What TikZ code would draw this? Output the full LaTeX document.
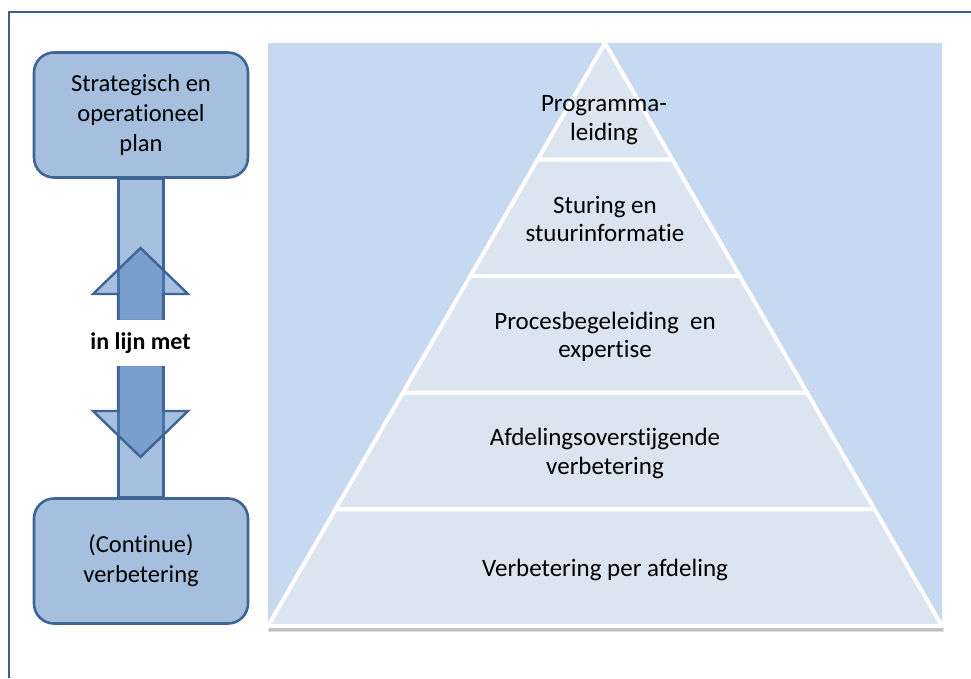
\documentclass[tikz,border=0pt]{standalone}
\usepackage{fontspec}
\setmainfont{Carlito}[Ligatures={NoCommon}]
\usetikzlibrary{backgrounds}
\definecolor{frameblue}{HTML}{3B5E8C}
\definecolor{boxfill}{HTML}{A7BFDE}
\definecolor{boxline}{HTML}{3E6596}
\definecolor{bgblue}{HTML}{C6D9F0}
\definecolor{layerfill}{HTML}{DBE5F1}
\definecolor{arrowblue}{HTML}{4F81BD}
\newcommand\myti{t\kern0pt i}
\begin{document}
\begin{tikzpicture}[x=1pt,y=-1pt,
  box/.style={draw=boxline, line width=2.6pt, fill=boxfill, rounded corners=20pt,
    minimum width=214pt, minimum height=125pt, align=center,
    font=\fontsize{24.5}{30}\selectfont, inner sep=0pt},
  barbox/.style={draw=boxline, line width=2.4pt, fill=boxfill},
  blockarrow/.style={draw=boxline, line width=2.4pt, fill=arrowblue, fill opacity=0.5, draw opacity=1, line join=miter},
  midlabel/.style={fill=white, minimum height=46pt, minimum width=116pt, inner sep=0pt,
    font=\fontsize{24}{28}\selectfont\bfseries},
  layer/.style={fill=layerfill, draw=white, line width=4pt, line join=round},
  ptext/.style={align=center, font=\fontsize{25}{28.5}\selectfont, text=black},
  frameline/.style={draw=frameblue, line width=2.6pt}
]
\useasboundingbox (0,0) rectangle (971,678);
% outer frame
\draw[frameline] (9,678) -- (9,12) -- (971,12);

% left boxes
\node[box] (plan) at (141,115) {Strategisch en\\opera\myti oneel\\plan};
\node[box] (cont) at (141,561) {(Con\myti nue)\\verbetering};
\begin{pgfonlayer}{background}
  \draw[barbox] ([xshift=-22.5pt]plan.south) rectangle ([xshift=22.5pt]cont.north);
\end{pgfonlayer}

% block arrows
\draw[blockarrow] (140.5,248) -- (188,294) -- (163,294) -- (163,321) -- (118,321) -- (118,294) -- (93,294) -- cycle;
\draw[blockarrow] (140.5,457) -- (188,411) -- (163,411) -- (163,365) -- (118,365) -- (118,411) -- (93,411) -- cycle;
\node[midlabel] (lbl) at (140.5,343) {in lijn met};

% pyramid background
\fill[bgblue] (268,43) rectangle (942,626);
% shadow under base
\fill[black, opacity=0.12] (268,627) -- (944,627) -- (944,632) -- (268,632) -- cycle;
\fill[black, opacity=0.15] (269,628) -- (943,628) -- (943,630.5) -- (269,630.5) -- cycle;
% layers
\draw[layer] (605,43) -- (672.4,159.6) -- (537.6,159.6) -- cycle;
\draw[layer] (537.6,159.6) -- (672.4,159.6) -- (739.8,276.2) -- (470.2,276.2) -- cycle;
\draw[layer] (470.2,276.2) -- (739.8,276.2) -- (807.2,392.8) -- (402.8,392.8) -- cycle;
\draw[layer] (402.8,392.8) -- (807.2,392.8) -- (874.6,509.4) -- (335.4,509.4) -- cycle;
\draw[layer] (335.4,509.4) -- (874.6,509.4) -- (942,626) -- (268,626) -- cycle;

\node[ptext] (l1) at (604,120) {Programma-\\leiding};
\node[ptext] (l2) at (605,219) {Sturing en\\stuurinforma\myti e};
\node[ptext] (l3) at (605,337) {Procesbegeleiding\ \ en\\exper\myti se};
\node[ptext] (l4) at (605,453.5) {Afdelingsoverstijgende\\verbetering};
\node[ptext] (l5) at (605,570) {Verbetering per afdeling};
\end{tikzpicture}
\end{document}
